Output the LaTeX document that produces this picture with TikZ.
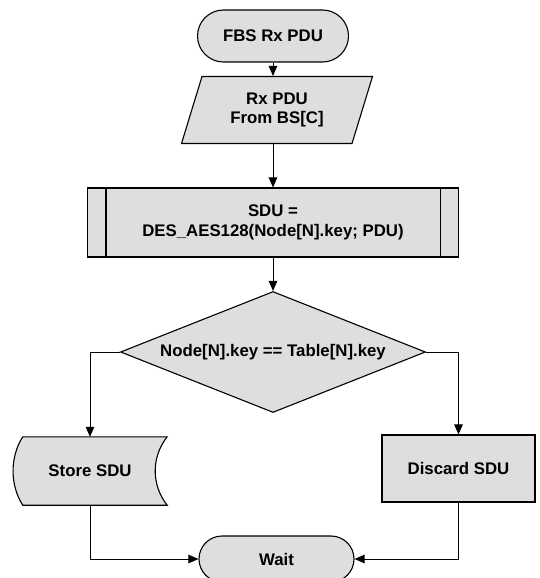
\documentclass[tikz,border=0pt]{standalone}
\usepackage{fontspec}
\setmainfont{Liberation Sans}
\usetikzlibrary{shapes.geometric, shapes.misc, arrows.meta, positioning, calc}

\begin{document}
\begin{tikzpicture}[x=1pt, y=-1pt, >={Triangle[length=10pt, width=8.5pt]},
    font=\fontsize{16.8}{19.5}\selectfont\bfseries,
    box/.style={draw, line width=1.1pt, fill=black!13, align=center, inner sep=2pt},
    term/.style={box, rounded rectangle, minimum width=155pt},
    arr/.style={->, line width=1pt}]
				\clip (0,0) rectangle (540,578);
				\fill[white] (0,0) rectangle (540,578);
				
				\node[term, minimum height=52pt] (start) at (273,36) {FBS Rx PDU};
				\node[box, trapezium, trapezium left angle=62, trapezium right angle=118, trapezium stretches body, minimum width=191pt, minimum height=67pt] (rxpdu) at (277,110) {Rx PDU\\From BS[C]};
				\node[box, rectangle, minimum width=371pt, minimum height=69pt] (decrypt) at (273,222.5) {SDU =\\DES\_AES128(Node[N].key; PDU)};
				\draw[line width=1.1pt] ([xshift=19pt]decrypt.north west) -- ([xshift=19pt]decrypt.south west)
				      ([xshift=-19pt]decrypt.north east) -- ([xshift=-19pt]decrypt.south east);
				\node[box, diamond, aspect=2.5, inner sep=0pt, minimum width=305pt, minimum height=121pt] (keycheck) at (273,352) {Node[N].key == Table[N].key};
				
				% stored data shape, text on top
				\node[minimum width=154pt, minimum height=68pt, inner sep=0pt] (store) at (90,471) {};
				\filldraw[line width=1.1pt, fill=black!13] ([xshift=10pt]store.north west) -- (store.north east)
				      .. controls +(-16,20) and +(-16,-20) .. (store.south east) -- ([xshift=10pt]store.south west)
				      .. controls +(-13,-20) and +(-13,20) .. ([xshift=10pt]store.north west) -- cycle;
				\node (storetext) at (store.center) {Store SDU};
				
				\node[box, rectangle, minimum width=153pt, minimum height=67pt] (discard) at (458.5,468.5) {Discard SDU};
				\node[term, minimum width=159pt, minimum height=46pt] (wait) at (276.5,559) {Wait};
				
				\draw[arr] (start.south) -- (start.south |- rxpdu.north);
				\draw[arr] (decrypt.north |- rxpdu.south) -- (decrypt.north);
				\draw[arr] (decrypt.south) -- (keycheck.north);
				\draw[arr] (keycheck.west) -| (store.north);
				\draw[arr] (keycheck.east) -| (discard.north);
				\draw[arr] (store.south) |- (wait.west);
				\draw[arr] (discard.south) |- (wait.east);
			\end{tikzpicture}
\end{document}
